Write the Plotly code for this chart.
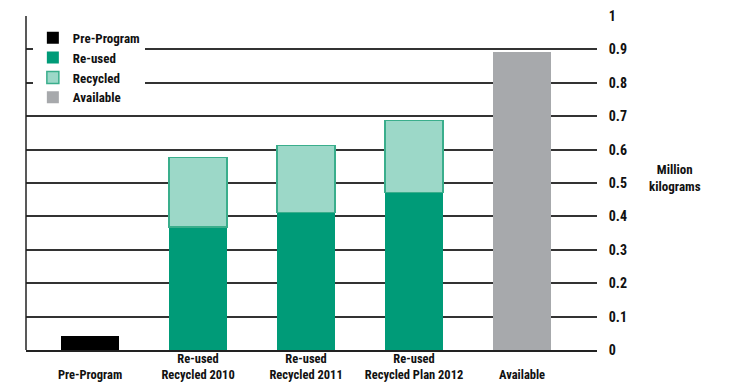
import plotly.graph_objects as go

categories = ["Pre-Program", "Re-used Recycled 2010", "Re-used Recycled 2011",
              "Re-used Recycled Plan 2012", "Available"]
tick_labels = [" <br>Pre-Program", "Re-used<br>Recycled 2010", "Re-used<br>Recycled 2011",
               "Re-used<br>Recycled Plan 2012", " <br>Available"]
pre_program = [0.041]
reused = [0.368, 0.411, 0.472]
recycled = [0.208, 0.202, 0.215]
available = [0.891]
y_ticks = [0, 0.1, 0.2, 0.3, 0.4, 0.5, 0.6, 0.7, 0.8, 0.9, 1]
y_tick_text = ["0", "0.1", "0.2", "0.3", "0.4", "0.5", "0.6", "0.7", "0.8", "0.9", "1"]

FONT = "Liberation Sans Narrow, Arial Narrow, Roboto Condensed, Roboto, sans-serif"
W = 0.537

fig = go.Figure()
fig.add_trace(go.Bar(name="Pre-Program", x=[0], y=pre_program, width=W,
                     marker=dict(color="#000000", line=dict(width=0))))
fig.add_trace(go.Bar(name="Re-used", x=[1, 2, 3], y=reused, width=W,
                     marker=dict(color="#009b78", line=dict(width=0))))
fig.add_trace(go.Bar(name="Recycled", x=[1, 2, 3], y=recycled, width=W,
                     marker=dict(color="#9cd8c8", line=dict(color="#3aae8c", width=1.5))))
fig.add_trace(go.Bar(name="Available", x=[4], y=available, width=W,
                     marker=dict(color="#a7a9ac", line=dict(width=0))))

fig.update_layout(
    width=729, height=382,
    margin=dict(l=26, r=132, t=16, b=32),
    barmode="stack",
    plot_bgcolor="white", paper_bgcolor="white",
    font=dict(family=FONT, size=13, color="#111111"),
    showlegend=True,
    legend=dict(x=0.012, y=0.98, xanchor="left", yanchor="top",
                bgcolor="white", traceorder="normal",
                font=dict(family=FONT, size=13, color="#111111", weight="bold"),
                itemwidth=30, tracegroupgap=0),
    xaxis=dict(range=[-0.593, 4.694], tickmode="array", automargin=False,
               tickvals=list(range(len(categories))), ticktext=tick_labels,
               showgrid=False, showline=True, linecolor="#222222", linewidth=2,
               ticks="", zeroline=False, ticklabelstandoff=-4,
               tickfont=dict(family=FONT, size=12.5, color="#111111", weight="bold")),
    yaxis=dict(range=[0, 1], side="right", tickmode="array", tickvals=y_ticks,
               ticktext=y_tick_text, showgrid=True, gridcolor="#333333", gridwidth=1.5,
               zeroline=False, showline=False, ticks="outside", ticklen=8,
               tickcolor="rgba(0,0,0,0)", automargin=False,
               tickfont=dict(family=FONT, size=14, color="#111111", weight="bold")),
    shapes=[dict(type="line", xref="paper", yref="paper", x0=0, x1=0, y0=0, y1=1,
                 line=dict(color="#222222", width=1.5))],
    annotations=[dict(text="Million<br>kilograms", xref="paper", yref="paper",
                      x=1.136, y=0.515, xanchor="center", yanchor="middle",
                      showarrow=False, align="center",
                      font=dict(family=FONT, size=13, color="#111111", weight="bold"))],
)

fig.write_html("out.html")
